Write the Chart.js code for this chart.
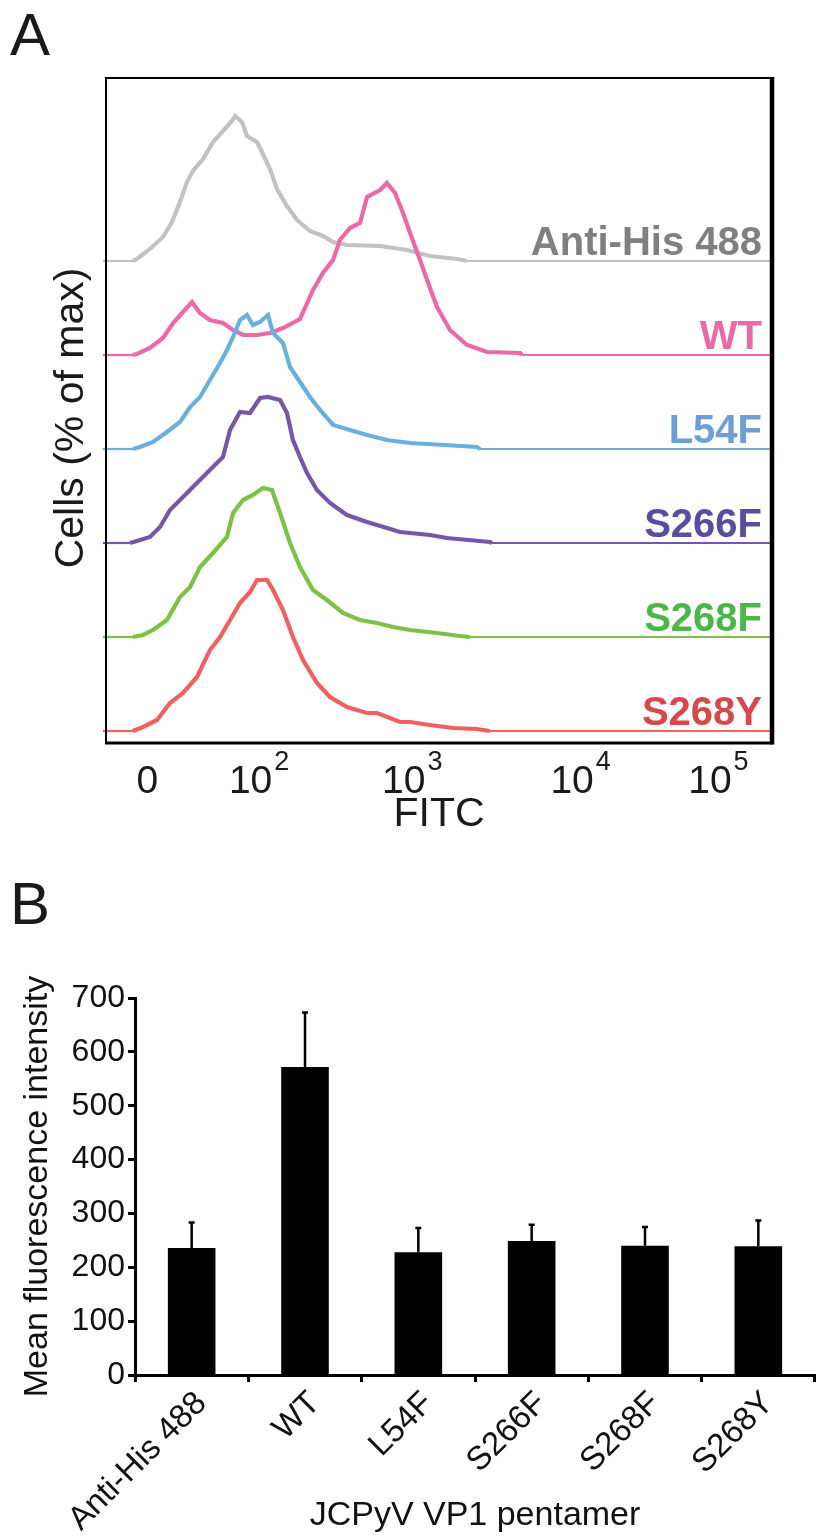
<!DOCTYPE html>
<html>
<head>
<meta charset="utf-8">
<script src="https://cdn.jsdelivr.net/npm/chart.js@4.4.1/dist/chart.umd.min.js"></script>
<style>
  html, body { margin: 0; padding: 0; background: #fff; }
  #wrap { position: relative; width: 820px; height: 1540px; }
  #boxA { position: absolute; left: 0; top: 0; }
  #boxB { position: absolute; left: 0; top: 860px; }
</style>
</head>
<body>
<div id="wrap">
  <div id="boxA"><canvas id="histA" width="820" height="860"></canvas></div>
  <div id="boxB"><canvas id="barsB" width="820" height="680"></canvas></div>
</div>
<script>
// ---- Panel A: histogramas de FITC (eje en décadas de visualización) ----
const muestras = ['Anti-His 488', 'WT', 'L54F', 'S266F', 'S268F', 'S268Y'];

const xAntiHis = [0.98, 1.176, 1.202, 1.287, 1.372, 1.431, 1.483, 1.529, 1.568, 1.634, 1.699, 1.764, 1.823, 1.843, 1.888, 1.921, 1.986, 2.025, 2.071, 2.117, 2.182, 2.248, 2.332, 2.417, 2.483, 2.574, 2.79, 2.966, 3.116, 3.293, 3.358, 5.35];
const hAntiHis = [0, 0, 2, 12, 24, 39, 59, 79, 90, 102, 119, 130, 140, 145, 139, 125, 119, 107, 92, 72, 55, 41, 30, 25, 19, 16, 15, 11, 5, 2, 0, 0];

const xWT = [0.98, 1.176, 1.202, 1.287, 1.372, 1.438, 1.503, 1.562, 1.614, 1.679, 1.764, 1.83, 1.895, 1.986, 2.071, 2.156, 2.267, 2.352, 2.417, 2.483, 2.528, 2.594, 2.659, 2.705, 2.79, 2.835, 2.888, 2.94, 2.986, 3.051, 3.097, 3.162, 3.247, 3.358, 3.489, 3.704, 3.717, 5.35];
const hWT = [0, 0, 1, 7, 17, 32, 43, 53, 42, 35, 32, 25, 20, 20, 22, 27, 36, 65, 82, 95, 115, 127, 132, 158, 165, 172, 162, 142, 122, 95, 75, 48, 25, 10, 3, 2, 0, 0];

const xL54F = [0.98, 1.176, 1.222, 1.307, 1.398, 1.483, 1.549, 1.614, 1.679, 1.745, 1.79, 1.83, 1.875, 1.921, 1.96, 2.006, 2.058, 2.091, 2.156, 2.202, 2.267, 2.332, 2.398, 2.483, 2.594, 2.705, 2.835, 2.986, 3.214, 3.423, 3.443, 5.35];
const hL54F = [0, 0, 2, 7, 17, 27, 42, 52, 69, 86, 99, 112, 129, 134, 124, 127, 134, 116, 106, 82, 67, 52, 39, 24, 19, 14, 9, 6, 4, 2, 0, 0];

const xS266F = [0.98, 1.157, 1.202, 1.287, 1.353, 1.418, 1.503, 1.594, 1.679, 1.764, 1.81, 1.875, 1.941, 2.006, 2.058, 2.137, 2.182, 2.221, 2.267, 2.313, 2.378, 2.463, 2.574, 2.705, 2.835, 2.92, 2.986, 3.116, 3.227, 3.508, 3.521, 5.35];
const hS266F = [0, 0, 2, 6, 16, 33, 46, 60, 73, 86, 113, 131, 130, 145, 146, 143, 130, 103, 86, 70, 53, 40, 28, 21, 15, 11, 10, 8, 5, 1, 0, 0];

const xS268F = [0.98, 1.176, 1.242, 1.307, 1.398, 1.483, 1.549, 1.614, 1.699, 1.79, 1.83, 1.895, 1.96, 2.025, 2.084, 2.137, 2.202, 2.267, 2.352, 2.443, 2.548, 2.659, 2.77, 2.875, 2.986, 3.162, 3.312, 3.378, 5.35];
const hS268F = [0, 0, 2, 7, 17, 40, 50, 70, 84, 100, 124, 137, 142, 149, 147, 124, 94, 70, 47, 37, 24, 17, 14, 10, 7, 4, 1, 0, 0];

const xS268Y = [0.98, 1.176, 1.242, 1.333, 1.418, 1.503, 1.594, 1.679, 1.745, 1.81, 1.875, 1.941, 1.986, 2.052, 2.091, 2.156, 2.221, 2.287, 2.378, 2.463, 2.574, 2.705, 2.77, 2.855, 2.92, 2.986, 3.116, 3.267, 3.423, 3.508, 5.35];
const hS268Y = [0, 0, 4, 11, 28, 38, 54, 81, 94, 111, 128, 139, 151, 151, 141, 121, 94, 71, 48, 34, 24, 18, 18, 13, 9, 9, 6, 3, 2, 0, 0];

// marcas del eje FITC (posición en décadas, texto base y exponente)
const ticksFITC = [1.27, 2, 3, 4.1, 5];
const ticksBase = ['0', '10', '10', '10', '10'];
const ticksExp = ['', '2', '3', '4', '5'];

// desplazamiento vertical entre histogramas apilados
const separacion = 94;
const baseInferior = 12;

const colorCurva = ['#c2c2c2', '#ee67a6', '#68b0e0', '#7656a8', '#7cc243', '#f1605f'];
const colorEtiqueta = ['#808080', '#ec69a8', '#6c9fd5', '#5a4c9f', '#4bb748', '#d8484a'];

const FUENTE = "'Liberation Sans', Arial, Helvetica, sans-serif";

const seriesX = [xAntiHis, xWT, xL54F, xS266F, xS268F, xS268Y];
const seriesH = [hAntiHis, hWT, hL54F, hS266F, hS268F, hS268Y];

const datasetsA = muestras.map(function(nombre, i) {
    const offset = baseInferior + separacion * (muestras.length - 1 - i);
    return {
        label: nombre,
        data: seriesX[i].map(function(x, k) { return { x: x, y: offset + seriesH[i][k] }; }),
        borderColor: colorCurva[i],
        borderWidth: 4,
        borderJoinStyle: 'miter',
        segment: {
            // tramos planos sobre la línea base se ven más finos
            borderWidth: function(ctx) {
                return (ctx.p0.parsed.y === offset && ctx.p1.parsed.y === offset) ? 2.2 : 4.2;
            }
        },
        pointRadius: 0,
        tension: 0,
        fill: false,
        clip: false,
        order: muestras.length - i
    };
});

const decoradoA = {
    id: 'decoradoA',
    afterDraw: function(chart) {
        const ctx = chart.ctx;
        const area = chart.chartArea;
        const xs = chart.scales.x;
        const ys = chart.scales.y;
        ctx.save();

        // marco
        ctx.strokeStyle = '#000';
        ctx.lineWidth = 2;
        ctx.beginPath();
        ctx.moveTo(area.left, area.bottom);
        ctx.lineTo(area.left, area.top);
        ctx.lineTo(area.right, area.top);
        ctx.stroke();
        ctx.lineWidth = 3;
        ctx.beginPath();
        ctx.moveTo(area.left - 1, area.bottom);
        ctx.lineTo(area.right, area.bottom);
        ctx.stroke();
        ctx.lineWidth = 4.5;
        ctx.beginPath();
        ctx.moveTo(area.right, area.top - 1);
        ctx.lineTo(area.right, area.bottom + 1.5);
        ctx.stroke();

        // etiquetas del eje x con superíndice
        ctx.fillStyle = '#1a1a1a';
        ctx.textBaseline = 'alphabetic';
        ctx.textAlign = 'left';
        ticksFITC.forEach(function(v, i) {
            const px = xs.getPixelForValue(v);
            ctx.font = '39px ' + FUENTE;
            const wBase = ctx.measureText(ticksBase[i]).width;
            ctx.font = '27px ' + FUENTE;
            const wExp = ticksExp[i] ? ctx.measureText(ticksExp[i]).width + 2 : 0;
            const x0 = px - (wBase + wExp) / 2;
            ctx.font = '39px ' + FUENTE;
            ctx.fillText(ticksBase[i], x0, 793);
            if (ticksExp[i]) {
                ctx.font = '27px ' + FUENTE;
                ctx.fillText(ticksExp[i], x0 + wBase + 2, 770);
            }
        });

        // títulos de ejes
        ctx.fillStyle = '#1a1a1a';
        ctx.font = '41px ' + FUENTE;
        ctx.textAlign = 'center';
        ctx.textBaseline = 'middle';
        ctx.fillText('FITC', (area.left + area.right) / 2, 815);
        ctx.save();
        ctx.translate(72, 418);
        ctx.rotate(-Math.PI / 2);
        ctx.fillText('Cells (% of max)', 0, 0);
        ctx.restore();

        // nombres de cada histograma
        ctx.font = 'bold 40px ' + FUENTE;
        ctx.textAlign = 'right';
        ctx.textBaseline = 'alphabetic';
        muestras.forEach(function(nombre, i) {
            const offset = baseInferior + separacion * (muestras.length - 1 - i);
            ctx.fillStyle = colorEtiqueta[i];
            ctx.fillText(nombre, area.right - 10, ys.getPixelForValue(offset) - 6);
        });

        // letra del panel
        ctx.fillStyle = '#1a1a1a';
        ctx.font = '60px ' + FUENTE;
        ctx.textAlign = 'left';
        ctx.fillText('A', 10, 55);
        ctx.restore();
    }
};

new Chart(document.getElementById('histA'), {
    type: 'line',
    data: { datasets: datasetsA },
    options: {
        responsive: false,
        animation: false,
        layout: { padding: { left: 106, right: 48, top: 78, bottom: 117 } },
        plugins: { legend: { display: false }, tooltip: { enabled: false } },
        scales: {
            x: { type: 'linear', min: 1.0, max: 5.35, display: false },
            y: { min: 0, max: 665, display: false }
        }
    },
    plugins: [decoradoA]
});

// ---- Panel B: intensidad media de fluorescencia ----
const grupos = ['Anti-His 488', 'WT', 'L54F', 'S266F', 'S268F', 'S268Y'];
const mfiMedia = [236, 572, 228, 249, 240, 239];
const mfiError = [47, 101, 45, 30, 35, 48];

const barrasError = {
    id: 'barrasError',
    afterDatasetsDraw: function(chart) {
        const ctx = chart.ctx;
        const ys = chart.scales.y;
        const meta = chart.getDatasetMeta(0);
        ctx.save();
        ctx.strokeStyle = '#000';
        ctx.lineWidth = 2.5;
        meta.data.forEach(function(barra, i) {
            const yTop = ys.getPixelForValue(mfiMedia[i] + mfiError[i]);
            ctx.beginPath();
            ctx.moveTo(barra.x, barra.y);
            ctx.lineTo(barra.x, yTop);
            ctx.moveTo(barra.x - 3, yTop);
            ctx.lineTo(barra.x + 3, yTop);
            ctx.stroke();
        });
        ctx.fillStyle = '#1a1a1a';
        ctx.font = '60px ' + FUENTE;
        ctx.textBaseline = 'alphabetic';
        ctx.fillText('B', 10, 64);
        ctx.restore();
    }
};

new Chart(document.getElementById('barsB'), {
    type: 'bar',
    data: {
        labels: grupos,
        datasets: [{
            data: mfiMedia,
            backgroundColor: '#000',
            borderWidth: 0,
            barPercentage: 0.42,
            categoryPercentage: 1
        }]
    },
    options: {
        responsive: false,
        animation: false,
        layout: { padding: { left: 0, right: 5, top: 138, bottom: 0 } },
        plugins: { legend: { display: false }, tooltip: { enabled: false } },
        scales: {
            x: {
                grid: { display: true, drawOnChartArea: false, drawTicks: true, tickLength: 7, tickWidth: 3, tickColor: '#000', offset: true },
                border: { display: true, width: 3, color: '#000' },
                ticks: { font: { size: 33, family: FUENTE }, color: '#111', minRotation: 45, maxRotation: 45, autoSkip: false, padding: 2, labelOffset: 10 },
                title: { display: true, text: 'JCPyV VP1 pentamer', font: { size: 34, family: FUENTE }, color: '#111', padding: { top: 0, bottom: 4 } },
                afterFit: function(s) { s.height = 165; }
            },
            y: {
                min: 0, max: 700,
                grid: { display: true, drawOnChartArea: false, drawTicks: true, tickLength: 7, tickWidth: 3, tickColor: '#000' },
                border: { display: true, width: 3, color: '#000' },
                ticks: { stepSize: 100, font: { size: 32, family: FUENTE }, color: '#111', padding: 3 },
                title: { display: true, text: 'Mean fluorescence intensity', font: { size: 34, family: FUENTE }, color: '#111', padding: { top: 17, bottom: 0 } },
                afterFit: function(s) { s.width = 135; }
            }
        }
    },
    plugins: [barrasError]
});
</script>
</body>
</html>
